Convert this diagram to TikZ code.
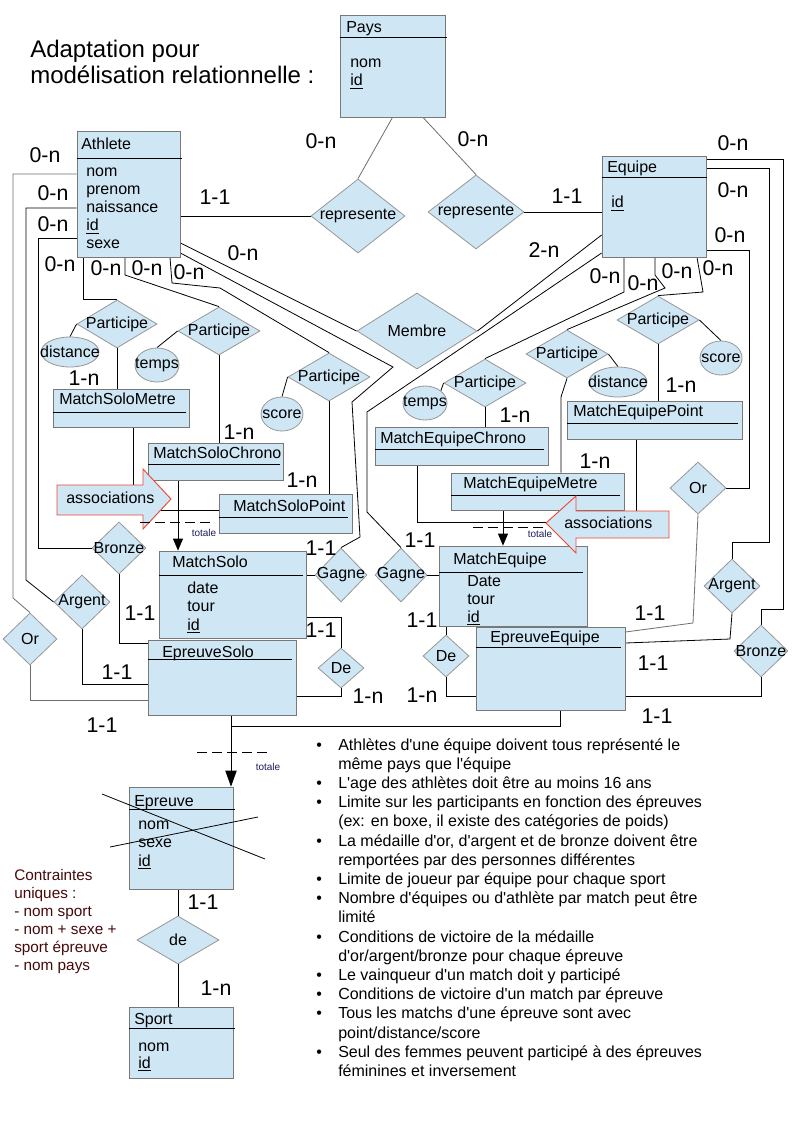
\documentclass[tikz,border=0pt]{standalone}
\usepackage{fontspec}
\newfontfamily\lsans{Liberation Sans}
\usetikzlibrary{shapes.geometric,arrows.meta,calc,fit}
\pgfdeclarelayer{bg}
\pgfsetlayers{bg,main}
\definecolor{lblue}{RGB}{207,231,245}
\definecolor{boxgray}{RGB}{120,120,120}
\definecolor{relgray}{RGB}{150,150,150}
\definecolor{linegray}{RGB}{110,110,110}
\definecolor{assocred}{RGB}{240,70,50}
\definecolor{totcol}{RGB}{30,30,90}
\definecolor{ctxt}{RGB}{70,10,10}
\newcommand\entnode[5]{\node[ent, fit={(#2,#3) (#4,#5)}] (#1) {};}
\newcommand\relnode[6]{\node[relst, minimum width=#4*1.5pt, minimum height=#5*1.5pt] (#1) at (#2,#3) {\makebox[0pt]{#6}};}
\newcommand\attnode[6]{\node[ellst, minimum width=#4*1.5pt, minimum height=#5*1.5pt] (#1) at (#2,#3) {\makebox[0pt]{#6}};}
\newcommand\txtnode[4]{\node[txt] (#1) at (#2,#3) {#4};}
\newcommand\cardnode[4]{\node[cardst] (#1) at (#2,#3) {#4};}
\newcommand\bulnode[4]{\node[txt] (#1) at (316,#2) {•};\node[txt] (#3) at (338,#2) {#4};}
\newcommand\linenode[3]{\node[txt] (#1) at (338,#2) {#3};}
\begin{document}
\begin{tikzpicture}[x=0.75pt,y=-0.75pt,
  ent/.style={draw=boxgray, fill=lblue, rectangle, inner sep=0pt, line width=0.6pt},
  relst/.style={diamond, draw=relgray, fill=lblue, inner sep=0pt, line width=0.6pt, font=\lsans\fontsize{12}{14}\selectfont},
  ellst/.style={ellipse, draw=relgray, fill=lblue, inner sep=0pt, line width=0.6pt, font=\lsans\fontsize{12}{14}\selectfont},
  txt/.style={anchor=base west, inner sep=0pt, font=\lsans\fontsize{12}{14}\selectfont},
  ctx/.style={anchor=base west, inner sep=0pt, font=\lsans\fontsize{11.5}{13}\selectfont, text=ctxt},
  cardst/.style={inner sep=0pt, font=\lsans\fontsize{16}{18}\selectfont},
  conn/.style={draw=black, line width=0.6pt},
  gconn/.style={draw=linegray, line width=0.6pt},
  sep/.style={draw=black, line width=0.6pt},
  assoc/.style={draw=assocred, fill=lblue, line width=0.7pt},
  tot/.style={inner sep=0pt, font=\lsans\fontsize{7.5}{9}\selectfont, text=totcol},
  arr/.style={conn, -{Triangle[length=9pt,width=7.5pt]}},
  bigarr/.style={conn, -{Triangle[length=12pt,width=8.5pt]}},
  dsh/.style={draw=black, line width=0.6pt, dash pattern=on 7.5pt off 3.75pt}]
\useasboundingbox (0,0) rectangle (794,1123);

% title
\node[anchor=base west, inner sep=0pt, font=\lsans\fontsize{18}{21}\selectfont] (title1) at (30,58) {Adaptation pour};
\node[anchor=base west, inner sep=0pt, font=\lsans\fontsize{18}{21}\selectfont] (title2) at (30,84) {modélisation relationnelle :};

% entities
\entnode{pays}{340}{15}{445}{117}
\draw[sep] (340,37) -- (447,37);
\txtnode{paysT}{346}{33}{Pays}
\txtnode{paysA}{350}{68}{nom}
\txtnode{paysB}{350}{86}{\underline{id}}

\entnode{ath}{77}{131}{180}{257}
\draw[sep] (77,158) -- (182,158);
\txtnode{athT}{81}{150}{Athlete}
\txtnode{athA}{86}{177}{nom}
\txtnode{athB}{86}{195}{prenom}
\txtnode{athC}{86}{213}{naissance}
\txtnode{athD}{86}{231}{\underline{id}}
\txtnode{athE}{86}{248}{sexe}

\entnode{eq}{602}{156}{706}{257}
\draw[sep] (602,177) -- (707,177);
\txtnode{eqT}{607}{173}{Equipe}
\txtnode{eqA}{611}{208}{\underline{id}}

\entnode{msm}{53}{389}{189}{427}
\draw[sep] (53,412) -- (186,412);
\txtnode{msmT}{59}{404}{MatchSoloMetre}

\entnode{msc}{148}{443}{283}{480}
\draw[sep] (148,464) -- (280,464);
\txtnode{mscT}{153}{458}{MatchSoloChrono}

\entnode{msp}{219}{494}{352}{533}
\draw[sep] (219,517) -- (348,517);
\txtnode{mspT}{233}{511}{MatchSoloPoint}

\entnode{ms}{159}{551}{306}{638}
\draw[sep] (159,575) -- (303,575);
\txtnode{msT}{172}{567}{MatchSolo}
\txtnode{msA}{187}{593}{date}
\txtnode{msB}{187}{611}{tour}
\txtnode{msC}{187}{630}{\underline{id}}

\entnode{es}{148}{640}{296}{715}
\draw[sep] (148,659) -- (292,659);
\txtnode{esT}{162}{657}{EpreuveSolo}

\entnode{mec}{375}{427}{548}{465}
\draw[sep] (375,449) -- (544,449);
\txtnode{mecT}{380}{443}{MatchEquipeChrono}

\entnode{mem}{451}{473}{624}{510}
\draw[sep] (451,495) -- (620,495);
\txtnode{memT}{463}{488}{MatchEquipeMetre}

\entnode{mep}{567}{401}{742}{439}
\draw[sep] (567,423) -- (738,423);
\txtnode{mepT}{573}{416}{MatchEquipePoint}

\entnode{me}{439}{546}{587}{626}
\draw[sep] (439,572) -- (583,572);
\txtnode{meT}{453}{564}{MatchEquipe}
\txtnode{meA}{467}{586}{Date}
\txtnode{meB}{467}{604}{tour}
\txtnode{meC}{467}{622}{\underline{id}}

\entnode{ee}{476}{627}{625}{710}
\draw[sep] (476,647) -- (621,647);
\txtnode{eeT}{490}{642}{EpreuveEquipe}

\entnode{ep}{129}{787}{233}{889}
\draw[sep] (129,809) -- (235,809);
\txtnode{epT}{134}{806}{Epreuve}
\txtnode{epA}{138}{829}{nom}
\txtnode{epB}{138}{847}{sexe}
\txtnode{epC}{138}{866}{\underline{id}}
\draw[conn] (102,794) -- (265,859);
\draw[conn] (110,847) -- (258,817);

\entnode{sport}{129}{1007}{233}{1078}
\draw[sep] (129,1028) -- (235,1028);
\txtnode{spT}{134}{1024}{Sport}
\txtnode{spA}{138}{1051}{nom}
\txtnode{spB}{138}{1068}{\underline{id}}

% relations
\relnode{repL}{358}{216}{47}{37}{represente}
\relnode{repR}{476}{212}{48}{37}{represente}
\relnode{membre}{417}{331}{60}{38}{Membre}
\relnode{pD}{117}{324}{40}{24}{Participe}
\relnode{pT}{219}{331}{41}{24}{Participe}
\relnode{pS}{329}{377}{41}{24}{Participe}
\relnode{pTE}{485}{383}{41}{24}{Participe}
\relnode{pDE}{567}{354}{41}{24}{Participe}
\relnode{pSE}{658}{320}{41}{24}{Participe}
\relnode{bronzeS}{119}{548}{27}{26}{Bronze}
\relnode{argentS}{82}{602}{28}{27}{Argent}
\relnode{orS}{30}{639}{27}{26}{Or}
\relnode{gagneS}{341}{575}{26}{27}{Gagne}
\relnode{gagneE}{401}{575}{26}{27}{Gagne}
\relnode{deS}{341}{668}{23}{20}{De}
\relnode{deE}{446}{656}{23}{21}{De}
\relnode{orE}{698}{488}{28}{26}{Or}
\relnode{argentE}{732}{586}{28}{27}{Argent}
\relnode{bronzeE}{761}{651}{27}{26}{Bronze}
\relnode{deP}{178}{940}{41}{24}{de}

% attributes
\attnode{eDist}{70}{352}{29}{15}{distance}
\attnode{eTemps}{157}{365}{22}{17}{temps}
\attnode{eScore}{282}{414}{21}{17}{score}
\attnode{eTempsE}{425}{403}{22}{17}{temps}
\attnode{eDistE}{618}{382}{29}{15}{distance}
\attnode{eScoreE}{721}{358}{21}{17}{score}

% connectors
\begin{pgfonlayer}{bg}
\fill[white] (0,0) rectangle (794,1123);
\draw[conn] (ath.east |- 0,216) -- (repL.west);
\draw[conn] (ath.east |- 0,243) -- (membre.west);
\draw[conn] (ath.east |- 0,253) -- (393,367) -- (352,402) -- (360,537) -- (gagneS.north);
\draw[conn] (ath.south -| 170,0) -- (172,283) -- (220,288) -- (pS.north);
\draw[conn] (ath.south -| 125,0) -- (125,275) -- (pT.north);
\draw[conn] (ath.south -| 83,0) |- (pD.north);
\draw[gconn] (ath.west |- 0,174) -- (13,174) -- (13,598) -- (orS.north);
\draw[conn] (ath.west |- 0,208) -- (26,208) -- (26,580) -- (argentS.west);
\draw[conn] (ath.west |- 0,238) -- (38,238) |- (bronzeS.west);
\draw[gconn] (pays.south) -- (repL.north);
\draw[gconn] (pays.south -| 423,0) -- (repR.north);
\draw[conn] (repR.east) -- (eq.west |- repR.east);
\draw[conn] (membre.east) -- (eq.west |- 0,235);
\draw[conn] (gagneE.north) -- (367,512) -- (367,412) -- (eq.west |- 0,253);
\draw[conn] (pTE.north) -- (624,292) -- (eq.south -| 624,0);
\draw[conn] (pDE.north) -- (665,288) -- (655,275) -- (eq.south -| 655,0);
\draw[conn] (pSE.north) -- (703,292) -- (eq.south -| 697,0);
\draw[conn] (orE.east) -- (749,488) -- (749,250) -- (eq.east |- 0,250);
\draw[conn] (argentE.north) -- (732,542) -- (769,542) -- (769,168) -- (eq.east |- 0,168);
\draw[conn] (bronzeE.north) -- (761,609) -- (783,609) -- (783,159) -- (eq.east |- 0,159);
% solo
\draw[conn] (pD.south) -- (msm.north -| pD.south);
\draw[conn] (pD.west) -- (eDist.north);
\draw[conn] (pT.south) -- (msc.north -| pT.south);
\draw[conn] (pT.west) -- (eTemps.north);
\draw[conn] (pS.south) -- (msp.north -| pS.south);
\draw[conn] (pS.west) -- (eScore.north);
\draw[conn] (msm.south -| 133,0) |- (msp.west |- 0,510);
\draw[arr] (msc.south -| 178,0) -- (ms.north -| 178,0);
\draw[conn] (ms.east |- gagneS.west) -- (gagneS.west);
\draw[conn] (ms.east |- 0,617) -| (deS.north);
\draw[conn] (deS.south) |- (es.east |- 0,696);
\draw[conn] (bronzeS.south) |- (es.west |- 0,643);
\draw[conn] (argentS.south) |- (es.west |- 0,684);
\draw[gconn] (orS.south) |- (es.west |- 0,700);
\draw[bigarr] (es.south -| 231,0) -- (ep.north -| 231,0);
\coordinate (jn) at (231,726);
\draw[conn] (ee.south -| 560,0) |- (jn);
% equipe
\draw[conn] (pTE.south) -- (mec.north -| pTE.south);
\draw[conn] (pTE.west) -- (eTempsE.north east);
\draw[conn] (pDE.south) -- (561,397) -- (mem.north -| 561,0);
\draw[conn] (pDE.east) -- (eDistE.north);
\draw[conn] (pSE.south) -- (mep.north -| pSE.south);
\draw[conn] (pSE.east) -- (eScoreE.north);
\draw[conn] (mec.south -| 417,0) |- (636,522) -- (mep.south -| 636,0);
\draw[arr] (mem.south -| 503,0) -- (me.north -| 503,0);
\draw[conn] (gagneE.east) -- (me.west |- gagneE.east);
\draw[conn] (me.south -| deE.north) -- (deE.north);
\draw[conn] (deE.south) |- (ee.west |- 0,696);
\draw[gconn] (orE.south) -- (693,623) -- (ee.east |- 0,632);
\draw[conn] (argentE.south) -- (730,639) -- (ee.east |- 0,643);
\draw[conn] (bronzeE.south) |- (ee.east |- 0,696);
\draw[conn] (ep.south -| deP.north) -- (deP.north);
\draw[conn] (deP.south) -- (sport.north -| deP.south);
\end{pgfonlayer}

% association arrows
\draw[assoc] (57,485) -- (143,485) -- (143,469) -- (171,499) -- (143,529) -- (143,515) -- (57,515) -- cycle;
\node[txt] (assocLT) at (66,503) {associations};
\draw[assoc] (669,511) -- (576,511) -- (576,496) -- (546,523) -- (576,553) -- (576,538) -- (669,538) -- cycle;
\node[txt] (assocRT) at (564,528) {associations};

\draw[dsh] (140,522) -- (213,522);
\node[tot] (tot1) at (204,533) {totale};
\draw[dsh] (473,527) -- (547,527);
\node[tot] (tot2) at (540,534) {totale};
\draw[dsh] (197,752) -- (268,752);
\node[tot] (tot3) at (268,767) {totale};

% cardinalities
\cardnode{c1}{45}{155}{0-n}
\cardnode{c2}{53}{193}{0-n}
\cardnode{c3}{53}{224}{0-n}
\cardnode{c4}{60}{264}{0-n}
\cardnode{c5}{106}{268}{0-n}
\cardnode{c6}{147}{268}{0-n}
\cardnode{c7}{189}{272}{0-n}
\cardnode{c8}{243}{253}{0-n}
\cardnode{c9}{215}{197}{1-1}
\cardnode{c10}{321}{141}{0-n}
\cardnode{c11}{473}{139}{0-n}
\cardnode{c12}{567}{196}{1-1}
\cardnode{c13}{544}{250}{2-n}
\cardnode{c14}{733}{143}{0-n}
\cardnode{c15}{733}{190}{0-n}
\cardnode{c16}{730}{235}{0-n}
\cardnode{c17}{605}{276}{0-n}
\cardnode{c18}{643}{283}{0-n}
\cardnode{c19}{677}{271}{0-n}
\cardnode{c20}{718}{268}{0-n}
\cardnode{c21}{84}{378}{1-n}
\cardnode{c22}{239}{432}{1-n}
\cardnode{c23}{302}{480}{1-n}
\cardnode{c24}{321}{548}{1-1}
\cardnode{c25}{321}{630}{1-1}
\cardnode{c26}{368}{696}{1-n}
\cardnode{c27}{140}{613}{1-1}
\cardnode{c28}{117}{672}{1-1}
\cardnode{c29}{102}{725}{1-1}
\cardnode{c30}{515}{415}{1-n}
\cardnode{c31}{595}{461}{1-n}
\cardnode{c32}{681}{385}{1-n}
\cardnode{c33}{420}{540}{1-1}
\cardnode{c34}{422}{620}{1-1}
\cardnode{c35}{422}{695}{1-n}
\cardnode{c36}{650}{613}{1-1}
\cardnode{c37}{653}{663}{1-1}
\cardnode{c38}{657}{716}{1-1}
\cardnode{c39}{203}{902}{1-1}
\cardnode{c40}{216}{988}{1-n}

% constraints
\node[ctx] (k1) at (14,880) {Contraintes};
\node[ctx] (k2) at (14,898) {uniques :};
\node[ctx] (k3) at (14,916) {- nom sport};
\node[ctx] (k4) at (14,934) {- nom + sexe +};
\node[ctx] (k5) at (14,952) {sport épreuve};
\node[ctx] (k6) at (14,970) {- nom pays};

% bullet list
\bulnode{d0}{750}{b0}{Athlètes d'une équipe doivent tous représenté le}
\linenode{b1}{769.2}{même pays que l'équipe}
\bulnode{d2}{788.4}{b2}{L'age des athlètes doit être au moins 16 ans}
\bulnode{d3}{807.6}{b3}{Limite sur les participants en fonction des épreuves}
\linenode{b4}{826.8}{(ex: en boxe, il existe des catégories de poids)}
\bulnode{d5}{846}{b5}{La médaille d'or, d'argent et de bronze doivent être}
\linenode{b6}{865.2}{remportées par des personnes différentes}
\bulnode{d7}{884.4}{b7}{Limite de joueur par équipe pour chaque sport}
\bulnode{d8}{903.6}{b8}{Nombre d'équipes ou d'athlète par match peut être}
\linenode{b9}{922.8}{limité}
\bulnode{d10}{942}{b10}{Conditions de victoire de la médaille}
\linenode{b11}{961.2}{d'or/argent/bronze pour chaque épreuve}
\bulnode{d12}{980.4}{b12}{Le vainqueur d'un match doit y participé}
\bulnode{d13}{999.6}{b13}{Conditions de victoire d'un match par épreuve}
\bulnode{d14}{1018.8}{b14}{Tous les matchs d'une épreuve sont avec}
\linenode{b15}{1038}{point/distance/score}
\bulnode{d16}{1057.2}{b16}{Seul des femmes peuvent participé à des épreuves}
\linenode{b17}{1076.4}{féminines et inversement}
\end{tikzpicture}
\end{document}
